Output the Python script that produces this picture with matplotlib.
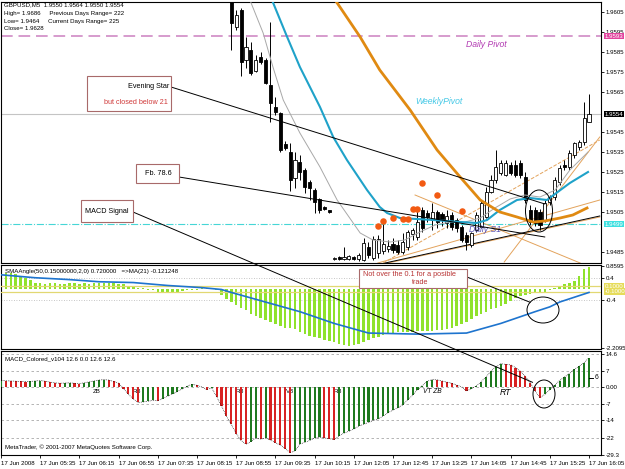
import matplotlib
matplotlib.use("Agg")
import matplotlib.pyplot as plt
from matplotlib import transforms
from matplotlib.patches import Rectangle, Ellipse, ConnectionPatch

W, H = 625, 469
plt.rcParams['font.family'] = ['Liberation Sans', 'DejaVu Sans']

# ---------------- data ----------------
# GBPUSD M5 candles, bars 47..120 (earlier bars are above the window)
bar_idx = list(range(47, 121))
opens = [1.96185, 1.95975, 1.9606, 1.9581, 1.9586, 1.95755, 1.95825, 1.9581, 1.95685, 1.95575,
         1.95545, 1.9539, 1.9535, 1.9522, 1.953, 1.9526, 1.952, 1.9516, 1.95115, 1.95075,
         1.9506, 1.94815, 1.94825, 1.94815, 1.94815, 1.94825, 1.94815, 1.9481, 1.94875, 1.9482,
         1.94845, 1.94855, 1.94865, 1.9489, 1.94885, 1.9485, 1.94875, 1.9494, 1.94925, 1.9506,
         1.95045, 1.9501, 1.9505, 1.9504, 1.94995, 1.95035, 1.9501, 1.94975, 1.94935, 1.94885,
         1.9496, 1.94975, 1.95025, 1.9515, 1.9521, 1.95245, 1.95235, 1.95285, 1.95285, 1.95295,
         1.95225, 1.9506, 1.9506, 1.9505, 1.9501, 1.951, 1.95125, 1.952, 1.95285, 1.95275,
         1.95335, 1.95375, 1.954, 1.955]
highs = [1.96235, 1.9606, 1.9607, 1.95925, 1.959, 1.95835, 1.9585, 1.9582, 1.96, 1.95625,
         1.9555, 1.95405, 1.95395, 1.9535, 1.95335, 1.9527, 1.9521, 1.9517, 1.9512, 1.9508,
         1.9506, 1.94825, 1.9483, 1.94875, 1.94835, 1.9483, 1.94845, 1.9492, 1.949, 1.9493,
         1.94935, 1.9499, 1.9491, 1.9492, 1.9491, 1.94945, 1.9496, 1.9497, 1.9506, 1.95075,
         1.9506, 1.95095, 1.9506, 1.9505, 1.9506, 1.9505, 1.9502, 1.94985, 1.9495, 1.9495,
         1.9505, 1.9511, 1.95175, 1.95235, 1.9536, 1.9531, 1.9531, 1.953, 1.9531, 1.9531,
         1.9525, 1.95085, 1.95075, 1.95065, 1.9511, 1.95135, 1.95225, 1.95285, 1.9531, 1.9536,
         1.954, 1.9541, 1.956, 1.9564]
lows = [1.9586, 1.9596, 1.9573, 1.9577, 1.95735, 1.9575, 1.9579, 1.9569, 1.955, 1.95535,
        1.9535, 1.9536, 1.95155, 1.9517, 1.9521, 1.95145, 1.9511, 1.95045, 1.95045, 1.9506,
        1.95045, 1.9481, 1.9481, 1.9481, 1.9481, 1.9481, 1.94805, 1.94805, 1.9482, 1.9481,
        1.9482, 1.9484, 1.9485, 1.94845, 1.9484, 1.9484, 1.9486, 1.9491, 1.9491, 1.9495,
        1.95, 1.9496, 1.9497, 1.9498, 1.9497, 1.9496, 1.9495, 1.949, 1.9486, 1.94875,
        1.9495, 1.9497, 1.9502, 1.95145, 1.95195, 1.95235, 1.9523, 1.95235, 1.95225, 1.9522,
        1.95095, 1.94985, 1.9498, 1.9496, 1.95, 1.95085, 1.9511, 1.95185, 1.9526, 1.9526,
        1.9532, 1.9536, 1.95385, 1.955]
closes = [1.95995, 1.96035, 1.958, 1.95875, 1.95745, 1.9581, 1.958, 1.95695, 1.95595, 1.9555,
          1.9536, 1.9537, 1.9521, 1.9531, 1.9525, 1.95175, 1.9517, 1.951, 1.9506, 1.95065,
          1.9505, 1.9482, 1.94815, 1.94825, 1.9483, 1.94815, 1.94835, 1.94895, 1.94835, 1.94915,
          1.94915, 1.9489, 1.9488, 1.9486, 1.9485, 1.949, 1.9495, 1.9496, 1.95, 1.9497,
          1.95025, 1.9505, 1.95, 1.9501, 1.9503, 1.94975, 1.9497, 1.9491, 1.949, 1.94945,
          1.95035, 1.95095, 1.9515, 1.9521, 1.95275, 1.95295, 1.95295, 1.95245, 1.95235, 1.95235,
          1.9511, 1.95, 1.94995, 1.94985, 1.95095, 1.95125, 1.9521, 1.9527, 1.95275, 1.95345,
          1.95395, 1.954, 1.9552, 1.9554]

# moving averages (bar index, price)
gray_ma_idx = [48.8, 50.8, 53.5, 55.5, 57.6, 61.0, 65.1, 68.6, 73.3, 75.9, 79.4, 82.4, 85.5,
               88.6, 91.6, 94.7, 97.8, 100.8, 103.9, 106.9, 110.0, 113.1, 116.1, 119.8]
gray_ma_val = [1.9621, 1.9611, 1.95945, 1.95775, 1.9561, 1.95445, 1.95275, 1.9511, 1.94945,
               1.9491, 1.949, 1.9491, 1.9495, 1.94985, 1.95, 1.95, 1.9502, 1.9507, 1.95115,
               1.95135, 1.95125, 1.9516, 1.9526, 1.9535]
cyan_ma_idx = [54.5, 55.3, 58.4, 61.0, 65.1, 67.8, 70.6, 74.7, 77.3, 78.8, 81.4, 88.2, 93.7,
               97.1, 99.2, 101.8, 105.3, 108.0, 111.4, 116.1, 119.8]
cyan_ma_val = [1.9616, 1.9611, 1.95925, 1.95775, 1.95575, 1.95425, 1.9531, 1.9516, 1.95075,
               1.95045, 1.9502, 1.9501, 1.95, 1.94995, 1.9501, 1.9506, 1.9511, 1.9512, 1.9511,
               1.95195, 1.9525]
orange_ma_idx = [66.1, 68.2, 73.3, 77.3, 83.5, 89.0, 93.7, 97.8, 101.8, 105.3, 108.6, 111.0,
                 114.1, 116.7, 119.6]
orange_ma_val = [1.9616, 1.9611, 1.95925, 1.9576, 1.9556, 1.9536, 1.95225, 1.9511, 1.9505,
                 1.95025, 1.95, 1.95005, 1.9502, 1.95035, 1.9507]

dot_idx = [77, 78, 80, 82, 83, 84, 85, 86, 89, 94]
dot_val = [1.9498, 1.95005, 1.9502, 1.95015, 1.95015, 1.95065, 1.95065, 1.95195, 1.95135, 1.95055]

daily_pivot = 1.9593
last_price = 1.9554
daily_s1 = 1.9499

# drawn trend lines: (bar0, price0, bar1, price1)
black_trend = [(78.4, 1.94795, 122.2, 1.9503)]
orange_solid = [(76.9, 1.94795, 122.2, 1.9511), (102.7, 1.948, 122.2, 1.95425),
                (84.5, 1.95135, 118.2, 1.94795), (79.0, 1.94795, 122.2, 1.95025)]
orange_dashed = [(78.0, 1.94795, 122.2, 1.9541)]

# SMAAngle histogram and its MA(21)
sma_angle = [0.59, 0.59, 0.59, 0.57, 0.50, 0.42, 0.33, 0.24,
             0.22, 0.20, 0.22, 0.22, 0.20, 0.20, 0.22, 0.22, 0.20, 0.22, 0.20, 0.22, 0.22, 0.24,
             0.24, 0.22, 0.20,
             0.17, 0.12, 0.08, 0.05, 0.03, -0.03, -0.05, -0.12, -0.14, -0.12, -0.14, -0.12, -0.08,
             -0.05, -0.03, -0.02, 0.02, 0.02, 0.03, -0.02,
             -0.22, -0.38, -0.50, -0.60, -0.70, -0.80, -0.92, -1.00, -1.10, -1.18, -1.25, -1.30,
             -1.38, -1.45, -1.47, -1.50,
             -1.60, -1.70, -1.75, -1.80, -1.85, -1.90, -1.95, -2.00, -2.05, -2.10,
             -2.12, -2.10, -2.05, -1.98, -1.92, -1.85, -1.78, -1.72, -1.68, -1.65,
             -1.62, -1.60, -1.60, -1.60, -1.58, -1.58, -1.57, -1.56, -1.55, -1.52,
             -1.50, -1.45, -1.38, -1.30, -1.22, -1.12, -1.02, -0.92, -0.85, -0.76,
             -0.70, -0.62, -0.55, -0.45, -0.35, -0.28, -0.22, -0.18, -0.15, -0.12,
             -0.10, -0.05, 0.03, 0.10, 0.17, 0.23, 0.30, 0.50, 0.75, 0.82]
sma_ma_idx = [0, 7, 14, 20, 27, 34, 41, 45, 47, 54, 61, 68, 75, 85, 95, 102, 109, 112, 114, 117, 120]
sma_ma_val = [0.53, 0.42, 0.35, 0.27, 0.24, 0.13, 0.05, -0.02, -0.13, -0.49, -0.85, -1.29, -1.65,
              -1.69, -1.65, -1.29, -0.85, -0.67, -0.49, -0.31, -0.13]

# MACD_Colored histogram
macd = [3.0, 2.9, 2.8, 2.7, 2.6, 2.5, 2.6, 2.8, 3.0, 2.7, 2.3, 2.0, 1.8, 1.9, 2.0, 1.8, 1.7, 2.0,
        2.4, 2.8, 3.2, 3.4, 3.2, 2.6, 1.8,
        -0.5, -3.0, -5.0, -6.5, -6.3, -6.0, -5.6, -5.8, -4.8, -3.8, -2.8, -1.8, -0.6, 0.5, 1.4,
        0.9, 0.2, -0.9, -0.2,
        -4.0, -8.0, -12.5, -16.0, -20.0, -23.0, -24.6, -23.5, -22.0, -22.4, -22.0, -22.8, -24.0,
        -25.0, -26.5, -28.3, -27.5,
        -24.6, -23.8, -23.0, -22.0, -21.7, -21.9, -22.2, -22.6, -21.0,
        -19.8, -19.0, -18.0, -16.8, -16.0, -15.2, -14.3, -13.6, -12.4, -11.0,
        -9.8, -8.8, -7.6, -5.4, -3.4, -1.0, 0.8, 2.7, 3.4, 3.3,
        2.8, 2.3, 1.8, 1.0, 0.3, -1.6, -0.5, 0.6, 2.5, 4.6,
        7.0, 9.0, 10.3, 10.0, 9.8, 8.6, 7.0, 4.8, 2.0, -1.6,
        -4.4, -3.0, -0.9, 1.0, 3.0, 4.5, 6.0, 7.8, 9.2, 10.8, 12.8]
macd_notes = [(19.6, 'ZB'), (27.8, 'RB'), (48.8, 'RB'), (59.0, 'VB'), (68.8, 'RB')]

time_labels = ['17 Jun 2008', '17 Jun 05:35', '17 Jun 06:15', '17 Jun 06:55', '17 Jun 07:35',
               '17 Jun 08:15', '17 Jun 08:55', '17 Jun 09:35', '17 Jun 10:15', '17 Jun 12:05',
               '17 Jun 12:45', '17 Jun 13:25', '17 Jun 14:05', '17 Jun 14:45', '17 Jun 15:25',
               '17 Jun 16:05']
label_bars = list(range(0, 121, 8))

FS = 4.4  # small MetaTrader label size


# ---------------- layout helpers (pixel positions) ----------------
def fx(x):
    return x / W


def fy(y):
    return 1 - y / H


def panel(x0, y0, x1, y1):
    return fig.add_axes([fx(x0), fy(y1), (x1 - x0) / W, (y1 - y0) / H])


def right_box(ax, val, txt, color):
    tr = transforms.blended_transform_factory(ax.transAxes, ax.transData)
    ax.text(1.006, val, txt, transform=tr, fontsize=FS, color='white', va='center', ha='left',
            zorder=20, clip_on=False,
            bbox=dict(boxstyle='square,pad=0.15', fc=color, ec='none'))


def note_box(x0, y0, x1, y1):
    fig.add_artist(Rectangle((fx(x0), fy(y1)), (x1 - x0) / W, (y1 - y0) / H,
                             transform=fig.transFigure, fc='white', ec='#A86A6A', lw=0.8,
                             zorder=10))


def connector(px, py, ax, xd, yd):
    fig.add_artist(ConnectionPatch(xyA=(fx(px), fy(py)), coordsA=fig.transFigure,
                                   xyB=(xd, yd), coordsB=ax.transData,
                                   color='black', lw=0.7, zorder=9))


def ring(cx, cy, w, h):
    fig.add_artist(Ellipse((fx(cx), fy(cy)), w / W, h / H, transform=fig.transFigure,
                           fill=False, ec='black', lw=0.7, zorder=9))


fig = plt.figure(figsize=(W / 100, H / 100), dpi=100)
fig.patch.set_facecolor('white')

XMAX = 122.45
ax_main = panel(1, 2, 601, 263)
ax_ind = panel(1, 265, 601, 349)
ax_macd = panel(1, 351, 601, 455)

for ax in (ax_main, ax_ind, ax_macd):
    ax.set_xlim(0, XMAX)
    ax.yaxis.tick_right()
    ax.tick_params(axis='y', labelsize=FS, length=2, pad=1.2, width=0.6)
    ax.tick_params(axis='x', bottom=False, labelbottom=False)
    for s in ax.spines.values():
        s.set_linewidth(0.8)

# ---------------- main chart ----------------
ax = ax_main
ax.set_ylim(1.94795, 1.9610)
ticks = [1.9605, 1.9595, 1.9585, 1.9575, 1.9565, 1.9545, 1.9535, 1.9525, 1.9515, 1.9505, 1.9485]
ax.set_yticks(ticks)
ax.set_yticklabels(['%.4f' % t for t in ticks])

ax.axhline(daily_pivot, color='#D69BCD', lw=1.4, dashes=(6, 3), zorder=1)
ax.axhline(last_price, color='#C4C4C4', lw=0.8, zorder=1)
ax.axhline(daily_s1, color='#46D6D6', lw=0.8, ls='-.', zorder=1)

for t in orange_solid:
    ax.plot([t[0], t[2]], [t[1], t[3]], color='#E3A35C', lw=0.7, zorder=2)
for t in orange_dashed:
    ax.plot([t[0], t[2]], [t[1], t[3]], color='#E3A35C', lw=0.7, ls='--', zorder=2)
for t in black_trend:
    ax.plot([t[0], t[2]], [t[1], t[3]], color='black', lw=0.7, zorder=2)

for i, o, hi, lo, c in zip(bar_idx, opens, highs, lows, closes):
    ax.vlines(i, lo, hi, color='black', lw=0.7, zorder=3)
    fc = 'white' if c >= o else 'black'
    ax.add_patch(Rectangle((i - 0.32, min(o, c)), 0.64, max(abs(c - o), 0.00002),
                           fc=fc, ec='black', lw=0.6, zorder=4))

ax.plot(gray_ma_idx, gray_ma_val, color='#A8A8A8', lw=0.7, zorder=5)
ax.plot(cyan_ma_idx, cyan_ma_val, color='#1FA2C9', lw=1.5, zorder=5)
ax.plot(orange_ma_idx, orange_ma_val, color='#E08A12', lw=2.0, zorder=5)
ax.scatter(dot_idx, dot_val, s=22, color='#F25A12', zorder=6, linewidths=0)

ax.text(94.9, 1.9589, 'Daily Pivot', color='#B23AB2', fontsize=6.2, style='italic', va='center',
        zorder=7)
ax.text(84.5, 1.95605, 'WeeklyPivot', color='#45C8E6', fontsize=6.2, style='italic', va='center',
        zorder=7)
ax.text(95.5, 1.94965, 'Daily S1', color='#5A55B5', fontsize=6.2, style='italic', va='center',
        zorder=7)

right_box(ax, daily_pivot, '1.9593', '#E2449E')
right_box(ax, last_price, '1.9554', 'black')
right_box(ax, daily_s1, '1.9499', '#3EE0E0')

# ---------------- SMAAngle panel ----------------
ax = ax_ind
ax.set_ylim(-2.247, 0.897)
ax.set_yticks([0.8595, 0.4, -0.4, -2.2095])
ax.set_yticklabels(['0.8595', '0.4', '-0.4', '-2.2095'])
for v in (0.4, -0.4):
    ax.axhline(v, color='#B4B4B4', lw=0.6, ls=(0, (1, 2)), zorder=1)
for v in (0.1, -0.1):
    ax.axhline(v, color='#E2D872', lw=0.9, zorder=3)
ax.bar(range(len(sma_angle)), sma_angle, width=0.5, color='#8FE22C', zorder=2)
ax.plot(sma_ma_idx, sma_ma_val, color='#1E74CE', lw=1.2, zorder=4)
right_box(ax, 0.1, '0.1000', '#E6DC5A')
right_box(ax, -0.1, '-0.1000', '#E6DC5A')

# ---------------- MACD panel ----------------
ax = ax_macd
ax.set_ylim(-29.3, 15.8)
mt = [14.6, 7, 0, -7, -14, -22, -29.3]
ax.set_yticks(mt)
ax.set_yticklabels(['14.6', '7', '0.00', '-7', '-14', '-22', '-29.3'])
for v in mt[:-1]:
    ax.axhline(v, color='#A8A8A8', lw=0.6, ls=(0, (3, 3)), zorder=1)
cols = ['#1F7A1F']
for k in range(1, len(macd)):
    cols.append('#1F7A1F' if macd[k] >= macd[k - 1] else '#D82222')
ax.bar(range(len(macd)), macd, width=0.42, color=cols, zorder=3)
ax.plot(range(len(macd)), macd, color='black', lw=0.5, ls=(0, (1, 1.5)), zorder=4)
for xb, txt in macd_notes:
    ax.text(xb, -1.9, txt, fontsize=FS, ha='center', va='center', zorder=2)
ax.text(88.0, -1.9, 'VT ZB', fontsize=4.8, style='italic', ha='center', va='center', zorder=5)
ax.text(102.9, -2.2, 'RT', fontsize=6.2, style='italic', ha='center', va='center', zorder=5)
ax.plot([120.1, 120.8], [4.3, 4.3], color='black', lw=0.7, zorder=5)
ax.text(121.1, 4.3, '6', fontsize=FS + 0.4, va='center', ha='left', zorder=5)

ax.tick_params(axis='x', bottom=True, labelbottom=True, labelsize=FS, length=2.5, pad=2,
               width=0.6)
ax.set_xticks(label_bars)
ax.set_xticklabels(time_labels)
for lab in ax.get_xticklabels():
    lab.set_horizontalalignment('left')

# ---------------- texts and drawn objects ----------------
info = ['GBPUSD,M5  1.9550 1.9564 1.9550 1.9554',
        'High= 1.9686     Previous Days Range= 222',
        'Low= 1.9464     Current Days Range= 225',
        'Close= 1.9628']
for k, line in enumerate(info):
    fig.text(fx(4), fy(5 + 8 * k), line, fontsize=FS, va='center', ha='left', zorder=8)
fig.text(fx(5), fy(271), 'SMAAngle(50,0.15000000,2,0) 0.720000   =>MA(21) -0.121248',
         fontsize=FS, va='center', zorder=8)
fig.text(fx(5), fy(359), 'MACD_Colored_v104 12.6 0.0 12.6 12.6', fontsize=FS, va='center',
         zorder=8)
fig.text(fx(5), fy(447), 'MetaTrader, \u00a9 2001-2007 MetaQuotes Software Corp.', fontsize=FS,
         va='center', zorder=8)

# annotation boxes with their pointer lines
connector(171, 87, ax_main, 111, 1.9509)
connector(179, 177, ax_main, 111, 1.94925)
connector(133, 212, ax_macd, 108.5, 2.2)
connector(467, 277, ax_ind, 108, -0.5)

note_box(87, 76, 171, 111)
fig.text(fx(169), fy(86), 'Evening Star', fontsize=5.2, ha='right', va='center', zorder=11)
fig.text(fx(168), fy(102), 'but closed below 21', fontsize=5.2, ha='right', va='center',
         color='#D03A3A', zorder=11)
note_box(136, 164, 179, 183)
fig.text(fx(158), fy(173), 'Fb. 78.6', fontsize=5.2, ha='center', va='center', zorder=11)
note_box(81, 200, 133, 222)
fig.text(fx(85), fy(211), 'MACD Signal', fontsize=5.2, ha='left', va='center', zorder=11)
note_box(359, 269, 467, 288)
fig.text(fx(363), fy(275), 'Not over the 0.1 for a posible', fontsize=5.2, ha='left',
         va='center', color='#B83434', zorder=11)
fig.text(fx(420), fy(283), 'trade', fontsize=5.2, ha='center', va='center', color='#B83434',
         zorder=11)

ring(539, 211, 27, 42)
ring(543, 310, 32, 26)
ring(544, 394, 22, 28)

fig.savefig('out.png', dpi=100)
